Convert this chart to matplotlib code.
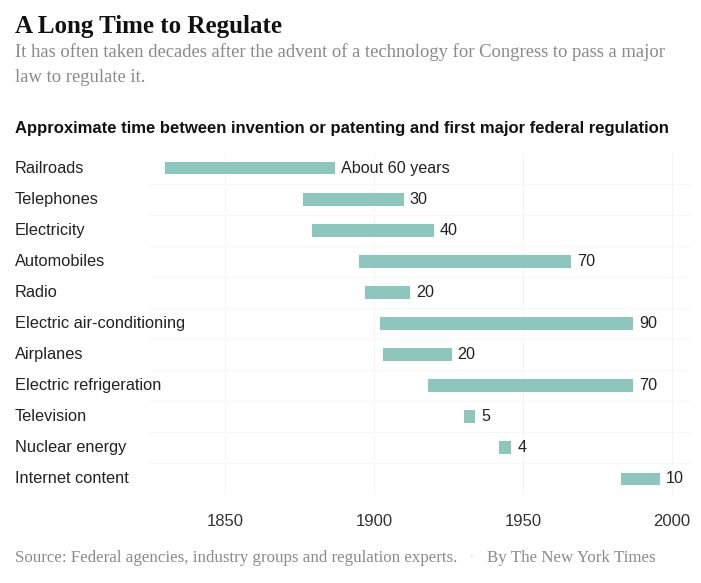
import matplotlib.pyplot as plt
from matplotlib.transforms import blended_transform_factory

# Datos: año de invención/patente y año de la primera gran regulación federal
categorias = ['Railroads', 'Telephones', 'Electricity', 'Automobiles', 'Radio',
              'Electric air-conditioning', 'Airplanes', 'Electric refrigeration',
              'Television', 'Nuclear energy', 'Internet content']
inicio = [1830, 1876, 1879, 1895, 1897, 1902, 1903, 1918, 1930, 1942, 1983]
fin = [1887, 1910, 1920, 1966, 1912, 1987, 1926, 1987, 1934, 1946, 1996]
etiquetas = ['About 60 years', '30', '40', '70', '20', '90', '20', '70', '5', '4', '10']
ticks = [1850, 1900, 1950, 2000]

color_barra = '#8cc6bc'
sans = 'Liberation Sans'
serif = 'Liberation Serif'

fig = plt.figure(figsize=(7.01, 5.83), dpi=100)
W, H = 701, 583

# Ejes: filas de y=168 a y=479 px, 1850 en x=225 px y 2000 en x=672 px
ax = fig.add_axes([150 / W, 1 - 494.5 / H, 540 / W, (494.5 - 152.5) / H])
ax.set_xlim(1824.8, 2006)
ax.set_ylim(len(categorias) - 0.5, -0.5)

y = list(range(len(categorias)))
ancho = [f - i for i, f in zip(inicio, fin)]
ax.barh(y, ancho, left=inicio, height=0.41, color=color_barra, zorder=2)

for yi, f, txt in zip(y, fin, etiquetas):
    ax.text(f + 2, yi, txt, va='center', ha='left', fontsize=11.6, family=sans, color='#222222')

# Cuadrícula muy tenue
for t in ticks:
    ax.axvline(t, color='#f4f4f4', lw=0.8, zorder=0)
for yi in y[:-1]:
    ax.axhline(yi + 0.5, color='#f6f6f6', lw=0.8, zorder=0)

for s in ax.spines.values():
    s.set_visible(False)
ax.set_yticks([])
ax.set_xticks(ticks)
ax.set_xticklabels([str(t) for t in ticks], family=sans, fontsize=12, color='#333333')
ax.tick_params(axis='x', length=0, pad=14)

# Nombres de categorías alineados a la izquierda de la figura
trans = blended_transform_factory(fig.transFigure, ax.transData)
for yi, c in zip(y, categorias):
    ax.text(15 / W, yi, c, transform=trans, va='center', ha='left',
            fontsize=11.8, family=sans, color='#222222')

# Títulos
fig.text(15 / W, 1 - 26 / H, 'A Long Time to Regulate', family=serif, weight='bold',
         fontsize=18, va='center', ha='left', color='#111111')
fig.text(15 / W, 1 - 52 / H, 'It has often taken decades after the advent of a technology for Congress to pass a major',
         family=serif, fontsize=13.4, va='center', ha='left', color='#8a8a8a')
fig.text(15 / W, 1 - 78 / H, 'law to regulate it.', family=serif, fontsize=13.4,
         va='center', ha='left', color='#8a8a8a')
fig.text(15 / W, 1 - 128 / H,
         'Approximate time between invention or patenting and first major federal regulation',
         family=sans, weight='bold', fontsize=12, va='center', ha='left', color='#111111')

# Fuente
fig.text(15 / W, 1 - 558 / H, 'Source: Federal agencies, industry groups and regulation experts.',
         family=serif, fontsize=12.2, va='center', ha='left', color='#8a8a8a')
fig.text(471 / W, 1 - 558 / H, '·', family=serif, fontsize=12.2,
         va='center', ha='center', color='#dddddd')
fig.text(487 / W, 1 - 558 / H, 'By The New York Times', family=serif, fontsize=12.2,
         va='center', ha='left', color='#8a8a8a')

fig.savefig('out.png', dpi=100, facecolor='white')
